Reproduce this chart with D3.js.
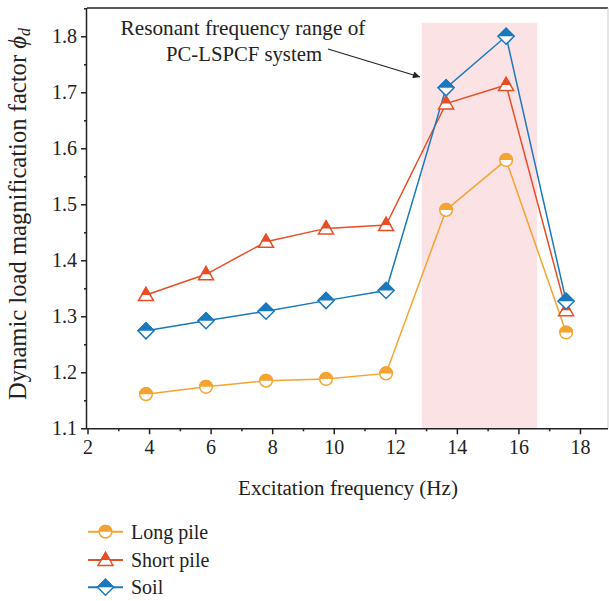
<!DOCTYPE html>
<html><head><meta charset="utf-8">
<script src="https://cdn.jsdelivr.net/npm/d3@7"></script>
<style>
html,body{margin:0;padding:0;background:#fff;}
svg text{font-family:"Liberation Serif","Times New Roman",serif;fill:#222;}
</style></head>
<body><svg id="chart" width="609" height="601"></svg>
<script>
const freq = [3.9, 5.85, 7.8, 9.75, 11.7, 13.65, 15.6, 17.55];
const longPile = [1.161, 1.174, 1.185, 1.188, 1.198, 1.490, 1.579, 1.271];
const shortPile = [1.338, 1.375, 1.433, 1.457, 1.463, 1.680, 1.713, 1.311];
const soil = [1.274, 1.292, 1.309, 1.328, 1.346, 1.708, 1.800, 1.327];
const seriesNames = ["Long pile", "Short pile", "Soil"];
const xTicks = [2, 4, 6, 8, 10, 12, 14, 16, 18];
const yTicks = [1.1, 1.2, 1.3, 1.4, 1.5, 1.6, 1.7, 1.8];
const resonantRange = [12.86, 16.61];
const resonantTop = 1.824;

(function () {
const svg = d3.select("#chart");
const pL = 87, pR = 608, pT = 8, pB = 428.3;
const x = d3.scaleLinear().domain([2, 19]).range([pL + 0.5, pL + 0.5 + 17 * 30.78]);
const y = d3.scaleLinear().domain([1.1, 1.85]).range([pB, pB - 0.75 * 560]);

const colors = ["#f5a331", "#e84e26", "#1a78bc"];
const shapes = ["circle", "triangle", "diamond"];
const data = [longPile, shortPile, soil];
const FS = "20px";

function fit(sel, target) {
  const len = sel.node().getComputedTextLength();
  const fs = parseFloat(sel.style("font-size"));
  sel.style("font-size", (fs * target / len).toFixed(2) + "px");
}

// resonant band
svg.append("rect")
  .attr("x", x(resonantRange[0])).attr("width", x(resonantRange[1]) - x(resonantRange[0]))
  .attr("y", y(resonantTop)).attr("height", y(1.1) - y(resonantTop))
  .attr("fill", "#fbe2e5");

// frame top / right
svg.append("line").attr("x1", pL).attr("x2", pR).attr("y1", pT).attr("y2", pT)
  .attr("stroke", "#222").attr("stroke-width", 1.5);
svg.append("line").attr("x1", pR).attr("x2", pR).attr("y1", pT).attr("y2", pB)
  .attr("stroke", "#ccc").attr("stroke-width", 1);

// axes
const xAxis = d3.axisBottom(x).tickValues(xTicks).tickSize(6).tickPadding(6).tickFormat(d3.format("d"));
const gx = svg.append("g").attr("transform", `translate(0,${pB})`).call(xAxis);
gx.select(".domain").attr("d", `M${pL},0.5H${pR}`);
const xMinor = d3.axisBottom(x).tickValues(d3.range(3, 19, 2)).tickSize(3).tickFormat("");
const gxm = svg.append("g").attr("transform", `translate(0,${pB})`).call(xMinor);
gxm.select(".domain").remove();

const yAxis = d3.axisLeft(y).tickValues(yTicks).tickSize(6).tickPadding(4).tickFormat(d3.format(".1f"));
const gy = svg.append("g").attr("transform", `translate(${pL},0)`).call(yAxis);
gy.select(".domain").attr("d", `M-0.5,${pB}V${pT}`);
const yMinor = d3.axisLeft(y).tickValues(d3.range(1.15, 1.85, 0.1)).tickSize(3).tickFormat("");
const gym = svg.append("g").attr("transform", `translate(${pL},0)`).call(yMinor);
gym.select(".domain").remove();

svg.selectAll(".tick line, .domain").attr("stroke", "#222").attr("stroke-width", 1.5);
svg.selectAll(".tick text").style("font-size", FS).style("font-family", '"Liberation Serif",serif').attr("fill", "#222");

// axis titles
const xt = svg.append("text").attr("x", 348).attr("y", 495).attr("text-anchor", "middle")
  .style("font-size", FS).text("Excitation frequency (Hz)");
fit(xt, 220);
const yt = svg.append("text").attr("transform", "translate(26,400) rotate(-90)")
  .attr("text-anchor", "start").style("font-size", FS);
yt.append("tspan").text("Dynamic load magnification factor ");
yt.append("tspan").style("font-style", "italic").text("\u03d5");
yt.append("tspan").style("font-style", "italic").style("font-size", "0.65em").attr("dy", "0.25em").text("d");
fit(yt, 372);

// annotation
const a1 = svg.append("text").attr("x", 243).attr("y", 35).attr("text-anchor", "middle")
  .style("font-size", FS).text("Resonant frequency range of");
fit(a1, 245);
const a2 = svg.append("text").attr("x", 244).attr("y", 61).attr("text-anchor", "middle")
  .style("font-size", FS).text("PC-LSPCF system");
fit(a2, 156);
const defs = svg.append("defs");
defs.append("marker").attr("id", "arrow").attr("viewBox", "0 0 10 10").attr("refX", 10).attr("refY", 5)
  .attr("markerWidth", 9).attr("markerHeight", 7).attr("markerUnits", "userSpaceOnUse").attr("orient", "auto")
  .append("path").attr("d", "M0,0L10,5L0,10z").attr("fill", "#222");
svg.append("line").attr("x1", 328).attr("y1", 49).attr("x2", 420).attr("y2", 77)
  .attr("stroke", "#222").attr("stroke-width", 1.2).attr("marker-end", "url(#arrow)");

defs.append("clipPath").attr("id", "tophalf").attr("clipPathUnits", "userSpaceOnUse")
  .append("rect").attr("x", -20).attr("y", -20).attr("width", 40).attr("height", 20);

function shapePath(s) {
  if (s === "circle") return d3.symbol(d3.symbolCircle, Math.PI * 6.3 * 6.3)();
  if (s === "triangle") return "M0,-7.5L7.5,5.5L-7.5,5.5Z";
  return "M0,-8L8,0L0,8L-8,0Z";
}
function drawMarker(g, s, color) {
  const p = shapePath(s);
  g.append("path").attr("d", p).attr("fill", "#fff").attr("stroke", color).attr("stroke-width", 1.5);
  g.append("path").attr("d", p).attr("fill", color).attr("stroke", color).attr("stroke-width", 1.5)
    .attr("clip-path", "url(#tophalf)");
}

const line = d3.line().x((d, i) => x(freq[i])).y(d => y(d));
data.forEach((vals, k) => {
  svg.append("path").datum(vals).attr("d", line).attr("fill", "none")
    .attr("stroke", colors[k]).attr("stroke-width", 1.5);
});
data.forEach((vals, k) => {
  svg.append("g").selectAll("g").data(vals).join("g")
    .attr("transform", (d, i) => `translate(${x(freq[i])},${y(d)})`)
    .each(function () { drawMarker(d3.select(this), shapes[k], colors[k]); });
});

// legend
const legY = [531.7, 560, 587.3];
seriesNames.forEach((name, k) => {
  const g = svg.append("g").attr("transform", `translate(0,${legY[k]})`);
  g.append("line").attr("x1", 88).attr("x2", 123).attr("y1", 0).attr("y2", 0)
    .attr("stroke", colors[k]).attr("stroke-width", 2);
  const m = g.append("g").attr("transform", "translate(105.5,0)");
  drawMarker(m, shapes[k], colors[k]);
  g.append("text").attr("x", 131).attr("y", 7).style("font-size", FS).text(name);
});
})();
</script></body></html>
